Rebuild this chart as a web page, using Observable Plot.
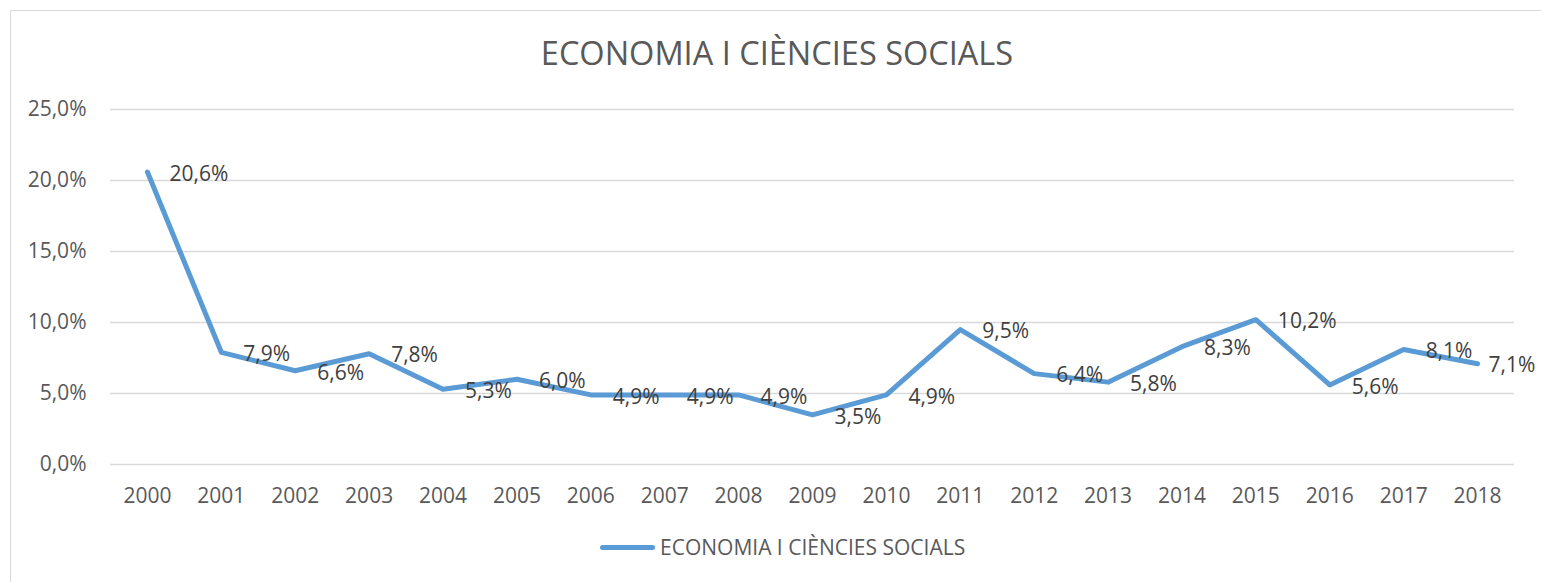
<!DOCTYPE html>
<html>
<head>
<meta charset="utf-8">
<script src="https://cdn.jsdelivr.net/npm/d3@7"></script>
<script src="https://cdn.jsdelivr.net/npm/@observablehq/plot@0.6"></script>
<style>
  html, body { margin: 0; padding: 0; background: #fff; overflow: hidden; }
  #wrap { position: relative; width: 1541px; height: 582px; overflow: hidden; font-family: "Open Sans", sans-serif; }
  #border { position: absolute; left: 10px; top: 10px; width: 1700px; height: 700px; border: 1.5px solid #d9d9d9; box-sizing: border-box; }
  #title { position: absolute; left: 0; top: 37px; width: 1554px; text-align: center; font-size: 32.5px; line-height: 32.5px; color: #595959; white-space: nowrap; }
  #chart { position: absolute; left: 0; top: 80px; }
  #legend { position: absolute; left: 600px; top: 537px; height: 21px; display: flex; align-items: center; font-size: 21px; line-height: 21px; color: #595959; white-space: nowrap; }
  #legend .sw { width: 55px; height: 5px; border-radius: 3px; background: #5B9BD5; margin-right: 5px; }
</style>
</head>
<body>
<div id="wrap">
  <div id="border"></div>
  <div id="title"></div>
  <div id="chart"></div>
  <div id="legend"><span class="sw"></span><span id="legtext"></span></div>
</div>
<script>
const seriesName = "ECONOMIA I CIÈNCIES SOCIALS";
const years = ["2000","2001","2002","2003","2004","2005","2006","2007","2008","2009","2010","2011","2012","2013","2014","2015","2016","2017","2018"];
const values = [20.6, 7.9, 6.6, 7.8, 5.3, 6.0, 4.9, 4.9, 4.9, 3.5, 4.9, 9.5, 6.4, 5.8, 8.3, 10.2, 5.6, 8.1, 7.1];
const yTicks = [0, 5, 10, 15, 20, 25];

const fmt = v => v.toFixed(1).replace(".", ",") + "%";
const data = years.map((y, i) => ({year: y, value: values[i]}));

document.getElementById("title").textContent = seriesName;
document.getElementById("legtext").textContent = seriesName;

const chart = Plot.plot({
  width: 1541,
  height: 440,
  marginTop: 29,
  marginBottom: 56,
  marginLeft: 110,
  marginRight: 27,
  style: {fontFamily: "Open Sans, sans-serif", fontSize: "21px", color: "#595959", background: "transparent", overflow: "visible"},
  x: {type: "point", domain: years, padding: 0.5, round: false, label: null},
  y: {domain: [0, 25], label: null},
  marks: [
    Plot.ruleY(yTicks, {stroke: "#d9d9d9", strokeWidth: 1.5}),
    Plot.axisY({ticks: yTicks, tickSize: 0, tickPadding: 24, tickFormat: fmt, label: null, fill: "#595959"}),
    Plot.axisX({tickSize: 0, tickPadding: 24, label: null, fill: "#595959"}),
    Plot.line(data, {x: "year", y: "value", stroke: "#5B9BD5", strokeWidth: 5, strokeLinejoin: "round", strokeLinecap: "round"}),
    Plot.text(data.slice(0, -1), {x: "year", y: "value", text: d => fmt(d.value), textAnchor: "start", dx: 22, dy: 2, fill: "#404040"}),
    Plot.text(data.slice(-1), {x: "year", y: "value", text: d => fmt(d.value), textAnchor: "start", dx: 11, dy: 2, fill: "#404040"})
  ]
});
document.getElementById("chart").appendChild(chart);
</script>
</body>
</html>
